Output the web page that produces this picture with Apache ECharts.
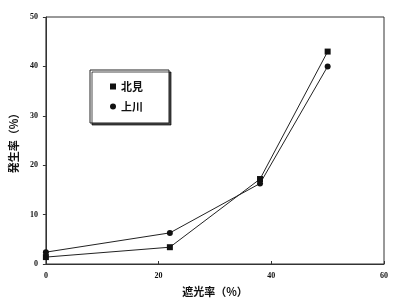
<!DOCTYPE html>
<html><head><meta charset="utf-8">
<script src="https://cdn.jsdelivr.net/npm/echarts@6/dist/echarts.min.js"></script>
<style>html,body{margin:0;padding:0;background:#fff}#c{width:397px;height:304px}</style>
</head><body><div id="c"></div>
<script>
const xLabel = '遮光率（%）';
const yLabel = '発生率（%）';
const seriesNames = ['北見', '上川'];
const kitamiData = [[0, 1.4], [22, 3.4], [38, 17.2], [50, 43.0]];
const kamikawaData = [[0, 2.4], [22, 6.3], [38, 16.3], [50, 40.0]];
const xTicks = [0, 20, 40, 60];
const yTicks = [0, 10, 20, 30, 40, 50];

const chart = echarts.init(document.getElementById('c'));
const tickFont = {fontFamily: 'Liberation Serif', fontSize: 8, fontWeight: 'bold', color: '#111'};
chart.setOption({
  animation: false,
  backgroundColor: '#fff',
  grid: {left: 43, right: 13, top: 17, bottom: 40, show: true, borderColor: '#333', borderWidth: 1},
  xAxis: {
    type: 'value', min: 0, max: 60, interval: 20,
    name: xLabel, nameLocation: 'middle', nameGap: 22,
    nameTextStyle: {fontFamily: 'Noto Sans CJK JP', fontSize: 11, fontWeight: 'bold', color: '#111'},
    axisLine: {lineStyle: {color: '#333'}},
    axisTick: {inside: true, length: 3, lineStyle: {color: '#333'}},
    axisLabel: Object.assign({margin: 8}, tickFont),
    splitLine: {show: false}
  },
  yAxis: {
    type: 'value', min: 0, max: 50, interval: 10,
    name: yLabel, nameLocation: 'middle', nameGap: 26, nameRotate: 90,
    nameTextStyle: {fontFamily: 'Noto Sans CJK JP', fontSize: 11, fontWeight: 'bold', color: '#111'},
    axisLine: {lineStyle: {color: '#333'}},
    axisTick: {inside: false, length: 3, lineStyle: {color: '#333'}},
    axisLabel: Object.assign({margin: 8}, tickFont),
    splitLine: {show: false}
  },
  legend: {
    left: 90, top: 70, orient: 'vertical',
    backgroundColor: '#fff', borderColor: '#222', borderWidth: 1,
    shadowColor: 'rgba(0,0,0,0.7)', shadowOffsetX: 2, shadowOffsetY: 2, shadowBlur: 0,
    padding: [11, 26, 11, 20], itemGap: 9, itemWidth: 6, itemHeight: 6,
    textStyle: {fontFamily: 'Noto Sans CJK JP', fontSize: 11, fontWeight: 'bold', color: '#111'},
    data: [{name: seriesNames[0], icon: 'rect'}, {name: seriesNames[1], icon: 'circle'}]
  },
  series: [
    {name: seriesNames[0], type: 'line', data: kitamiData, symbol: 'rect', symbolSize: 6,
     itemStyle: {color: '#111'}, lineStyle: {color: '#222', width: 1}},
    {name: seriesNames[1], type: 'line', data: kamikawaData, symbol: 'circle', symbolSize: 6,
     itemStyle: {color: '#111'}, lineStyle: {color: '#222', width: 1}}
  ]
});
</script></body></html>
